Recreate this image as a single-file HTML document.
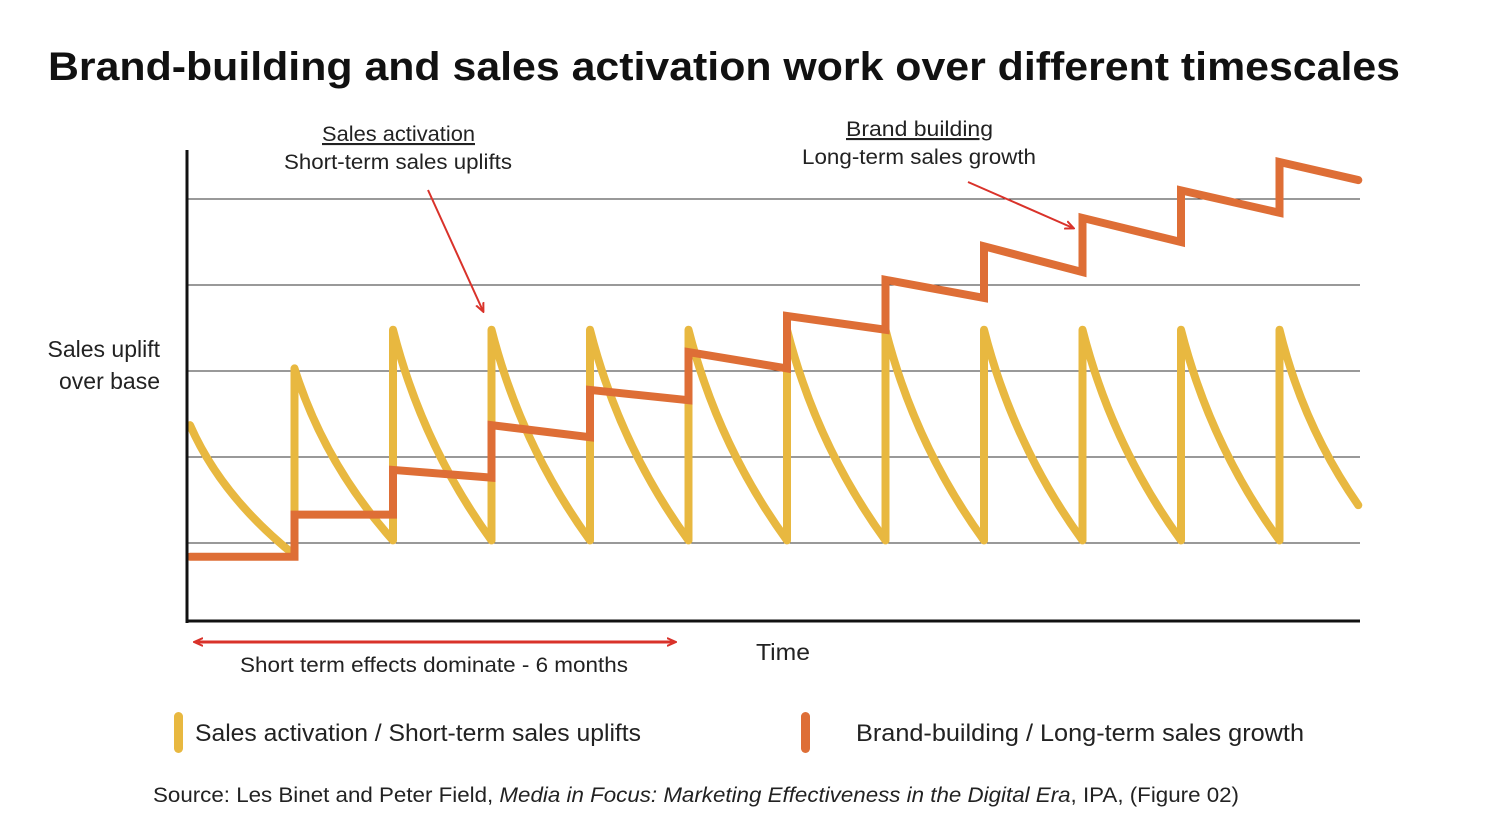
<!DOCTYPE html>
<html><head><meta charset="utf-8"><style>
body{margin:0;background:#fff;}
svg{display:block;font-family:"Liberation Sans",sans-serif;}
</style></head><body>
<svg width="1488" height="836" viewBox="0 0 1488 836">
<text x="48" y="80" font-size="40" font-weight="bold" fill="#111" textLength="1352" lengthAdjust="spacingAndGlyphs">Brand-building and sales activation work over different timescales</text>
<g id="grid"></g>
<g id="marks"></g>
<line x1="187" y1="150" x2="187" y2="623" stroke="#111" stroke-width="3"/>
<line x1="186" y1="621" x2="1360" y2="621" stroke="#111" stroke-width="3"/>
<g font-size="21" fill="#222">
<text x="322" y="141" textLength="153" lengthAdjust="spacingAndGlyphs" text-decoration="underline">Sales activation</text>
<text x="284" y="169" textLength="228" lengthAdjust="spacingAndGlyphs">Short-term sales uplifts</text>
<text x="846" y="136" textLength="147" lengthAdjust="spacingAndGlyphs" text-decoration="underline">Brand building</text>
<text x="802" y="164" textLength="234" lengthAdjust="spacingAndGlyphs">Long-term sales growth</text>
<text x="240" y="672" textLength="388" lengthAdjust="spacingAndGlyphs">Short term effects dominate - 6 months</text>
<text x="756" y="660" font-size="23" textLength="54" lengthAdjust="spacingAndGlyphs">Time</text>
</g>
<g font-size="23" fill="#222" text-anchor="end">
<text x="160" y="357">Sales uplift</text>
<text x="160" y="389">over base</text>
</g>
<defs><marker id="ah" markerWidth="10" markerHeight="10" refX="8" refY="5" orient="auto-start-reverse" markerUnits="userSpaceOnUse"><path d="M0,1 L9,5 L0,9" fill="none" stroke="#d9322a" stroke-width="2"/></marker></defs>
<line x1="428" y1="190" x2="483" y2="311" stroke="#d9322a" stroke-width="2" marker-end="url(#ah)"/>
<line x1="968" y1="182" x2="1073" y2="228" stroke="#d9322a" stroke-width="2" marker-end="url(#ah)"/>
<line x1="195" y1="642" x2="675" y2="642" stroke="#d9322a" stroke-width="3" marker-start="url(#ah)" marker-end="url(#ah)"/>
<rect x="174" y="712" width="9" height="41" rx="4.5" fill="#e8b840"/>
<text x="195" y="741" font-size="24" fill="#222" textLength="446" lengthAdjust="spacingAndGlyphs">Sales activation / Short-term sales uplifts</text>
<rect x="801" y="712" width="9" height="41" rx="4.5" fill="#de6e36"/>
<text x="856" y="741" font-size="24" fill="#222" textLength="448" lengthAdjust="spacingAndGlyphs">Brand-building / Long-term sales growth</text>
<text x="153" y="802" font-size="21" fill="#222" textLength="1086" lengthAdjust="spacingAndGlyphs">Source: Les Binet and Peter Field, <tspan font-style="italic">Media in Focus: Marketing Effectiveness in the Digital Era</tspan>, IPA, (Figure 02)</text>
</svg>
<script>
// grid levels
const gridLevels = [1, 2, 3, 4, 5];
// sales activation pulses: start time, end time, start value, end value
const pulseStart = [-0.06, 1, 2, 3, 4, 5, 6, 7, 8, 9, 10, 11];
const pulseEnd   = [1, 2, 3, 4, 5, 6, 7, 8, 9, 10, 11, 11.8];
const pulsePeak  = [2.37, 3.03, 3.48, 3.48, 3.48, 3.48, 3.48, 3.48, 3.48, 3.48, 3.48, 3.48];
const pulseLow   = [0.86, 1.03, 1.03, 1.03, 1.03, 1.03, 1.03, 1.03, 1.03, 1.03, 1.03, 1.44];
// brand building steps
const stepStart = [-0.06, 1, 2, 3, 4, 5, 6, 7, 8, 9, 10, 11];
const stepEnd   = [1, 2, 3, 4, 5, 6, 7, 8, 9, 10, 11, 11.8];
const stepHigh  = [0.84, 1.33, 1.85, 2.37, 2.78, 3.22, 3.64, 4.06, 4.45, 4.78, 5.10, 5.43];
const stepLow   = [0.84, 1.33, 1.76, 2.23, 2.66, 3.03, 3.48, 3.85, 4.15, 4.50, 4.84, 5.22];

const xs = t => 196 + 98.5 * t;
const ys = v => 629 - 86 * v;
const NS = 'http://www.w3.org/2000/svg';
const grid = document.getElementById('grid');
gridLevels.forEach(v => {
  const l = document.createElementNS(NS, 'line');
  l.setAttribute('x1', 187); l.setAttribute('x2', 1360);
  l.setAttribute('y1', ys(v)); l.setAttribute('y2', ys(v));
  l.setAttribute('stroke', '#333'); l.setAttribute('stroke-width', '1');
  
  
  grid.appendChild(l);
});
const marks = document.getElementById('marks');
let d = '';
pulseStart.forEach((t0, i) => {
  const x0 = xs(t0), x1 = xs(pulseEnd[i]);
  const y0 = ys(pulsePeak[i]), y1 = ys(pulseLow[i]);
  const cx = x0 + (x1 - x0) * 0.3, cy = y0 + (y1 - y0) * 0.55;
  d += (i === 0 ? 'M' : 'L') + x0 + ',' + y0 + ' Q' + cx + ',' + cy + ' ' + x1 + ',' + y1 + ' ';
});
const ya = document.createElementNS(NS, 'path');
ya.setAttribute('d', d);
ya.setAttribute('fill', 'none'); ya.setAttribute('stroke', '#e8b840');
ya.setAttribute('stroke-width', '8'); ya.setAttribute('stroke-linejoin', 'round'); ya.setAttribute('stroke-linecap', 'round');


marks.appendChild(ya);
let d2 = '';
stepStart.forEach((t0, i) => {
  d2 += (i === 0 ? 'M' : 'L') + xs(t0) + ',' + ys(stepHigh[i]) + ' L' + xs(stepEnd[i]) + ',' + ys(stepLow[i]) + ' ';
});
const ob = document.createElementNS(NS, 'path');
ob.setAttribute('d', d2);
ob.setAttribute('fill', 'none'); ob.setAttribute('stroke', '#de6e36');
ob.setAttribute('stroke-width', '8'); ob.setAttribute('stroke-linecap', 'round');


marks.appendChild(ob);
</script>
</body></html>
